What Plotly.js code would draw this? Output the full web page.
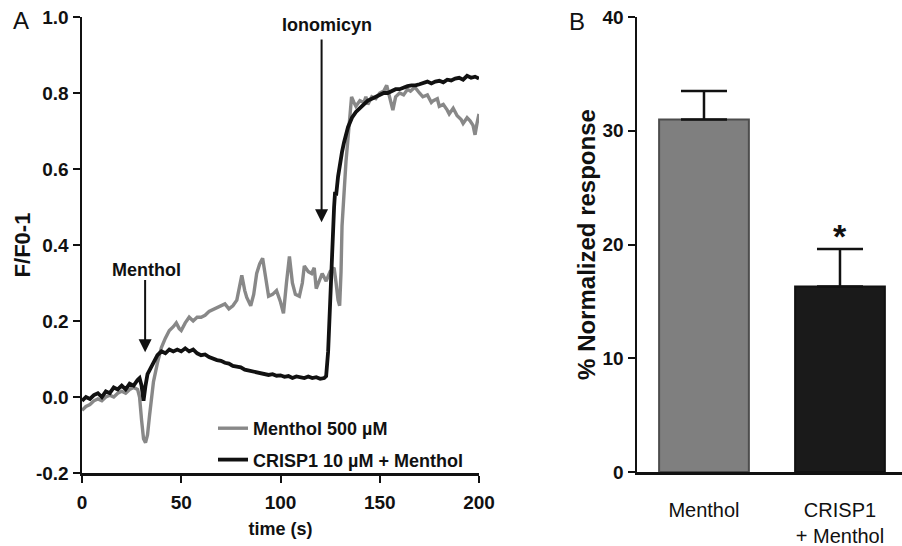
<!DOCTYPE html>
<html>
<head>
<meta charset="utf-8">
<script src="https://cdn.plot.ly/plotly-3.0.1.min.js"></script>
<style>html,body{margin:0;padding:0;background:#fff;}#chart{width:902px;height:546px;}</style>
</head>
<body>
<div id="chart"></div>
<script>
// Panel A: Menthol 500 µM (gray) trace
const tMenthol = [0,2,4,6,8,10,12,14,16,18,20,22,24,26,28,29,30,31,32,33,34,35,36,38,40,42,44,46,47.5,49,50,52,54,56,58,60,62,64,66,68,70,72,74,76,78,79.5,80.5,82,83,85,86.5,88,89.5,91,92.5,94,96,98,100,101.5,103,104.5,106,107.5,109.5,111,112,114,115.7,117,118,120,121,123,125,126,127,128,129,129.8,130.5,131,132,133,134,135,135.8,137,138,140,142,143,144,146,148,150,152,153.5,155,156.6,158,160,162,164,165.5,167.7,170,171.7,174,176,177,179,180,182,184,185,187,189,191,192,194,195.5,197,198,199,200];
const vMenthol = [-0.035,-0.025,-0.02,-0.01,-0.005,-0.01,0.0,0.005,0.0,0.01,0.015,0.01,0.02,0.025,0.02,0.0,-0.06,-0.11,-0.12,-0.1,-0.05,0.0,0.04,0.09,0.13,0.155,0.175,0.185,0.195,0.18,0.175,0.195,0.21,0.2,0.21,0.21,0.215,0.225,0.23,0.235,0.238,0.245,0.232,0.24,0.255,0.3,0.32,0.28,0.262,0.24,0.27,0.325,0.35,0.365,0.32,0.265,0.27,0.28,0.25,0.22,0.3,0.37,0.3,0.27,0.265,0.3,0.345,0.33,0.325,0.34,0.285,0.31,0.325,0.305,0.33,0.335,0.34,0.3,0.255,0.24,0.33,0.45,0.54,0.62,0.68,0.74,0.79,0.775,0.765,0.78,0.775,0.79,0.77,0.79,0.785,0.8,0.805,0.82,0.79,0.755,0.79,0.8,0.795,0.81,0.805,0.815,0.8,0.79,0.795,0.775,0.78,0.785,0.765,0.77,0.755,0.745,0.76,0.74,0.73,0.72,0.735,0.727,0.715,0.69,0.72,0.745];

// Panel A: CRISP1 10 µM + Menthol (black) trace
const tCrisp = [0,2,4,6,8,10,12,14,16,18,20,22,24,26,28,29,30,31,32,33,34,36,38,40,42,44,46,48,50,52,54,56,58,60,62,64,66,68,70,72,74,76,78,80,82,84,86,88,90,92,94,96,98,100,102,104,106,108,110,112,114,116,118,120,122,123,124,125,126,127,127.5,128,129,130,131,132,134,136,138,140,142,144,146,148,150,152,154,156,158,160,162,164,166,168,170,172,174,176,178,180,182,184,186,188,190,192,194,196,198,200];
const vCrisp = [-0.01,0.0,-0.005,0.005,0.01,0.0,0.015,0.01,0.025,0.02,0.03,0.02,0.035,0.03,0.045,0.05,0.03,-0.01,0.03,0.06,0.07,0.09,0.11,0.12,0.115,0.125,0.12,0.125,0.12,0.128,0.12,0.125,0.115,0.11,0.112,0.105,0.1,0.097,0.095,0.09,0.088,0.082,0.08,0.078,0.072,0.07,0.068,0.066,0.064,0.06,0.058,0.06,0.056,0.057,0.053,0.055,0.05,0.054,0.052,0.05,0.054,0.05,0.052,0.048,0.05,0.055,0.12,0.27,0.38,0.5,0.54,0.53,0.58,0.62,0.645,0.67,0.71,0.735,0.75,0.76,0.77,0.78,0.785,0.79,0.795,0.8,0.8,0.805,0.81,0.81,0.815,0.818,0.82,0.82,0.823,0.826,0.83,0.825,0.83,0.832,0.828,0.835,0.833,0.838,0.84,0.835,0.845,0.84,0.843,0.838];

// Panel B: bar chart
const barCategories = ['Menthol', 'CRISP1<br>+ Menthol'];
const barValues = [31.0, 16.3];
const barErrors = [2.5, 3.3];

// Tick labels
const tickValsA_y = [-0.2, 0.0, 0.2, 0.4, 0.6, 0.8, 1.0];
const tickTextA_y = ['-0.2', '0.0', '0.2', '0.4', '0.6', '0.8', '1.0'];
const tickValsA_x = [0, 50, 100, 150, 200];
const tickValsB_y = [0, 10, 20, 30, 40];

const FONT = 'Liberation Sans, Arial, Helvetica, sans-serif';

const traces = [
  {
    x: tMenthol, y: vMenthol, type: 'scatter', mode: 'lines',
    name: '<b>Menthol 500 µM</b>', legendgroup: 'g1',
    line: {color: '#888888', width: 3.4},
    xaxis: 'x', yaxis: 'y'
  },
  {
    x: tCrisp, y: vCrisp, type: 'scatter', mode: 'lines',
    name: '<b>CRISP1 10 µM + Menthol</b>', legendgroup: 'g2',
    line: {color: '#111111', width: 3.8},
    xaxis: 'x', yaxis: 'y'
  },
  {
    x: barCategories, y: barValues, type: 'bar', showlegend: false,
    width: 0.66,
    marker: {color: ['#7f7f7f', '#1a1a1a'], line: {color: ['#4d4d4d', '#111111'], width: 2}},
    error_y: {type: 'data', symmetric: false, array: barErrors, arrayminus: [0, 0],
              color: '#111111', thickness: 2.5, width: 23},
    xaxis: 'x2', yaxis: 'y2'
  }
];

const axisCommon = {
  showgrid: false, zeroline: false, showline: true, linecolor: '#111', linewidth: 2.5,
  ticks: 'outside', ticklen: 7, tickwidth: 2, tickcolor: '#111',
  tickfont: {family: FONT, size: 19, color: '#111', weight: 'bold'}
};

const layout = {
  width: 902, height: 546,
  margin: {l: 0, r: 0, t: 0, b: 0},
  paper_bgcolor: '#fff', plot_bgcolor: '#fff',
  font: {family: FONT, color: '#111'},
  showlegend: true,
  legend: {
    x: 213/902, y: (546-410)/546, xanchor: 'left', yanchor: 'top',
    bgcolor: 'rgba(0,0,0,0)', borderwidth: 0,
    font: {family: FONT, size: 18, color: '#111'},
    tracegroupgap: 5, itemwidth: 30
  },
  xaxis: Object.assign({}, axisCommon, {
    domain: [82/902, 479/902], range: [0, 200], anchor: 'y',
    tickvals: tickValsA_x, ticklabelstandoff: 4,
    title: {text: '<b>time (s)</b>', font: {family: FONT, size: 18, color: '#111'}, standoff: 10}
  }),
  yaxis: Object.assign({}, axisCommon, {
    domain: [73/546, 529/546], range: [-0.2, 1.0], anchor: 'x',
    tickvals: tickValsA_y, ticktext: tickTextA_y,
    title: {text: '<b>F/F0-1</b>', font: {family: FONT, size: 22, color: '#111'}, standoff: 0}
  }),
  xaxis2: Object.assign({}, axisCommon, {
    domain: [637/902, 1], range: [-0.4926, 1.456], anchor: 'y2',
    ticks: '', type: 'category', ticklabelstandoff: 18,
    tickfont: {family: FONT, size: 20, color: '#111'}
  }),
  yaxis2: Object.assign({}, axisCommon, {
    domain: [74/546, 529/546], range: [0, 40], anchor: 'x2',
    tickvals: tickValsB_y,
    title: {text: '<b>% Normalized response</b>', font: {family: FONT, size: 24, color: '#111'}, standoff: 0}
  }),
  annotations: [
    {text: 'A', xref: 'paper', yref: 'paper', x: 21/902, y: (546-21)/546, showarrow: false,
     font: {family: FONT, size: 24, color: '#111'}, xanchor: 'center', yanchor: 'middle'},
    {text: 'B', xref: 'paper', yref: 'paper', x: 577/902, y: (546-22)/546, showarrow: false,
     font: {family: FONT, size: 24, color: '#111'}, xanchor: 'center', yanchor: 'middle'},
    {text: '<b>Ionomicyn</b>', xref: 'paper', yref: 'paper', x: 327/902, y: (546-25)/546, showarrow: false,
     font: {family: FONT, size: 18, color: '#111'}, xanchor: 'center', yanchor: 'middle'},
    {text: '', xref: 'x', yref: 'y', x: 120.7, y: 0.46, axref: 'x', ayref: 'y', ax: 120.7, ay: 0.945,
     showarrow: true, arrowhead: 2, arrowsize: 1.3, arrowwidth: 2, arrowcolor: '#111'},
    {text: '<b>Menthol</b>', xref: 'paper', yref: 'paper', x: 146/902, y: (546-270)/546, showarrow: false,
     font: {family: FONT, size: 18, color: '#111'}, xanchor: 'center', yanchor: 'middle'},
    {text: '', xref: 'x', yref: 'y', x: 31.8, y: 0.118, axref: 'x', ayref: 'y', ax: 31.8, ay: 0.312,
     showarrow: true, arrowhead: 2, arrowsize: 1.3, arrowwidth: 2, arrowcolor: '#111'},
    {text: '<b>*</b>', xref: 'x2', yref: 'paper', x: 1, y: (546-236)/546, showarrow: false,
     font: {family: FONT, size: 34, color: '#111'}, xanchor: 'center', yanchor: 'middle'}
  ]
};

Plotly.newPlot('chart', traces, layout, {displayModeBar: false, staticPlot: true});
</script>
</body>
</html>
